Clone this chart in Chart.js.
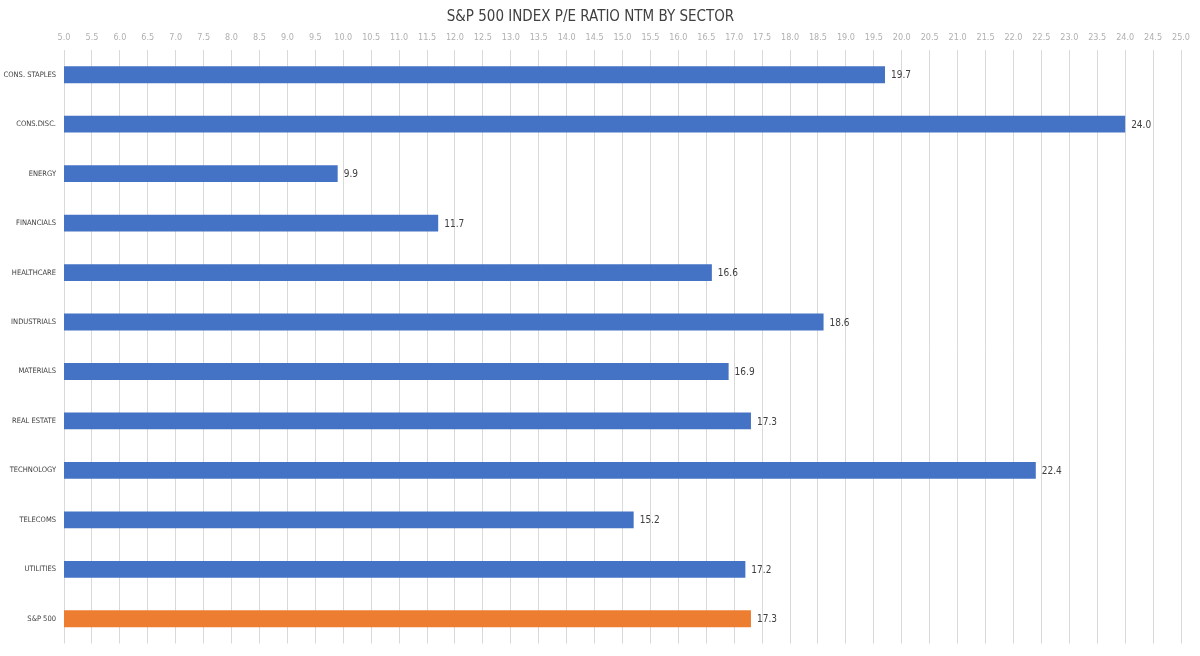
<!DOCTYPE html>
<html>
<head>
<meta charset="utf-8">
<script src="https://cdn.jsdelivr.net/npm/chart.js@4"></script>
<style>
  html, body { margin: 0; padding: 0; background: #fff; }
</style>
</head>
<body>
<canvas id="peChart" width="1200" height="656"></canvas>
<script>
const sectors = ["CONS. STAPLES", "CONS.DISC.", "ENERGY", "FINANCIALS", "HEALTHCARE", "INDUSTRIALS",
  "MATERIALS", "REAL ESTATE", "TECHNOLOGY", "TELECOMS", "UTILITIES", "S&P 500"];
const peValues = [19.7, 24.0, 9.9, 11.7, 16.6, 18.6, 16.9, 17.3, 22.4, 15.2, 17.2, 17.3];
const axisMin = 5.0;
const axisMax = 25.0;
const axisStep = 0.5;

const FONT = "'Liberation Sans Narrow', 'DejaVu Sans Condensed', 'Roboto', sans-serif";

const barColors = sectors.map(s => s === "S&P 500" ? "#ED7D31" : "#4472C4");

// value labels at the end of each bar
const valueLabels = {
  id: 'valueLabels',
  afterDatasetsDraw(chart) {
    const { ctx } = chart;
    const meta = chart.getDatasetMeta(0);
    ctx.save();
    ctx.font = '10px ' + FONT;
    ctx.fillStyle = '#404040';
    ctx.textAlign = 'left';
    ctx.textBaseline = 'middle';
    meta.data.forEach((bar, i) => {
      ctx.fillText(peValues[i].toFixed(1), bar.x + 6, bar.y + 1);
    });
    ctx.restore();
  }
};

const ctx = document.getElementById('peChart').getContext('2d');
new Chart(ctx, {
  type: 'bar',
  data: {
    labels: sectors,
    datasets: [{
      data: peValues,
      backgroundColor: barColors,
      borderWidth: 0,
      barPercentage: 0.34,
      categoryPercentage: 1.0
    }]
  },
  options: {
    indexAxis: 'y',
    responsive: false,
    animation: false,
    layout: { padding: { left: 0, right: 19, top: 0, bottom: 5 } },
    plugins: {
      legend: { display: false },
      tooltip: { enabled: false },
      title: {
        display: true,
        text: 'S&P 500 INDEX P/E RATIO NTM BY SECTOR',
        color: '#404040',
        font: { family: FONT, size: 15, weight: 'normal' },
        padding: { top: 8, bottom: 4 }
      }
    },
    scales: {
      x: {
        position: 'top',
        min: axisMin,
        max: axisMax,
        ticks: {
          stepSize: axisStep,
          color: '#b0b0b0',
          font: { family: FONT, size: 9 },
          padding: 7,
          maxRotation: 0,
          autoSkip: false,
          callback: v => v.toFixed(1)
        },
        grid: { color: '#d9d9d9', lineWidth: 1, drawTicks: false },
        border: { display: false },
        afterFit(axis) { axis.height = 20; }
      },
      y: {
        ticks: {
          color: '#404040',
          font: { family: FONT, size: 7.5 },
          padding: 8
        },
        grid: { display: false, drawTicks: false },
        border: { display: false },
        afterFit(axis) { axis.width = 64; }
      }
    }
  },
  plugins: [valueLabels]
});
</script>
</body>
</html>
